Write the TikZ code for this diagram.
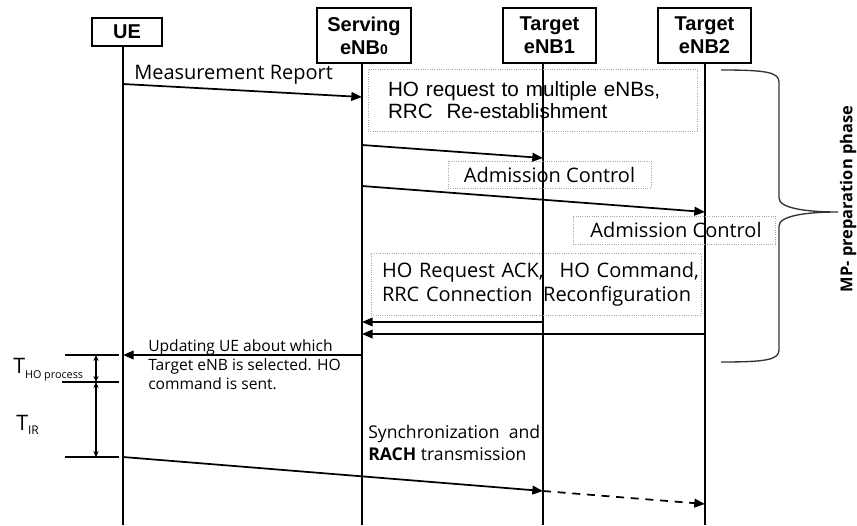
\documentclass[tikz,border=0pt]{standalone}
\usepackage{fontspec}
\setmainfont{Open Sans}
\newfontfamily\arialf{Liberation Sans}
\usetikzlibrary{arrows.meta}
\begin{document}
\begin{tikzpicture}[x=0.75pt,y=-0.75pt,
  hdr/.style={draw, line width=1.5pt, font=\arialf\bfseries\fontsize{15}{17.25}\selectfont, align=center, inner sep=0pt},
  life/.style={line width=1.4pt},
  msg/.style={line width=1.3pt, -{Triangle[length=8pt,width=6.5pt]}},
  dmsg/.style={msg, dash pattern=on 6pt off 5pt},
  dotbox/.style={draw=gray!70, densely dotted, line width=0.7pt},
  lbl/.style={font=\fontsize{15}{18}\selectfont, inner sep=0pt},
  tick/.style={line width=1.3pt},
  dim/.style={line width=1.2pt, {Stealth[length=4.5pt,width=4pt]}-{Stealth[length=4.5pt,width=4pt]}},
  brace/.style={line width=1pt, draw=black!80}]
\useasboundingbox (0,0) rectangle (857,525);

% header boxes
\node[hdr, minimum width=52.5pt, minimum height=21pt] (ue) at (127,32) {UE};
\node[hdr, minimum width=70.5pt, minimum height=41.25pt] (srv) at (364,35.5) {Serving\\eNB{\fontsize{10.5}{10}\selectfont 0}};
\node[hdr, minimum width=69.75pt, minimum height=41.25pt] (t1) at (549.5,35.5) {Target\\eNB1};
\node[hdr, minimum width=69.75pt, minimum height=41.25pt] (t2) at (704.5,35.5) {Target\\eNB2};

% lifelines
\coordinate (ueT) at (123,46);  \coordinate (ueB) at (123,525);
\coordinate (srvT) at (362,63); \coordinate (srvB) at (362,525);
\coordinate (t1T) at (543,63);  \coordinate (t1B) at (543,525);
\coordinate (t2T) at (705,63);  \coordinate (t2B) at (705,525);
\draw[life] (ueT) -- (ueB);
\draw[life] (srvT) -- (srvB);
\draw[life] (t1T) -- (t1B);
\draw[life] (t2T) -- (t2B);

% dotted boxes
\node[dotbox, lbl, font=\arialf\fontsize{15.5}{16}\selectfont, text width=216.75pt, align=left,
      inner xsep=15pt, minimum height=46.5pt] (horeq) at (532.5,100)
      {HO request to multiple eNBs,\\RRC\ \ Re-establishment};
\node[dotbox, lbl, minimum width=152.25pt, minimum height=20.25pt] (ac1) at (549.5,174.5) {Admission Control};
\node[dotbox, lbl, minimum width=151.5pt, minimum height=21pt] (ac2) at (674,230) {\hspace{3pt}Admission Control};
\node[dotbox, lbl, text width=231pt, align=left, inner xsep=8.25pt, minimum height=46.5pt] (ack) at (536,284)
      {\mbox{HO Request ACK,\hspace{12pt}HO Command,}\\\mbox{RRC Connection\hspace{8pt}Reconfiguration}};

% messages
\coordinate (m1s) at (123,84);  \coordinate (m1e) at (362,97);
\draw[msg] (m1s) -- (m1e);
\node[lbl, anchor=west] (m1l) at (134,75) {Measurement Report};

\coordinate (m2s) at (362,145); \coordinate (m2e) at (543,158);
\draw[msg] (m2s) -- (m2e);
\coordinate (m3s) at (362,186); \coordinate (m3e) at (705,212);
\draw[msg] (m3s) -- (m3e);

\coordinate (r1s) at (543,322); \coordinate (r1e) at (362,322);
\draw[msg] (r1s) -- (r1e);
\coordinate (r2s) at (705,334); \coordinate (r2e) at (362,334);
\draw[msg] (r2s) -- (r2e);

\coordinate (u1s) at (362,355); \coordinate (u1e) at (123,355);
\draw[msg] (u1s) -- (u1e);
\node[lbl, anchor=north west, font=\fontsize{11.7}{14.25}\selectfont, align=left] (updl) at (148,339)
  {Updating UE about which\\Target eNB is selected. HO\\command is sent.};

\coordinate (s1s) at (123,457); \coordinate (s1e) at (543,491);
\draw[msg] (s1s) -- (s1e);
\coordinate (s2e) at (705,504);
\draw[dmsg] (s1e) -- (s2e);
\node[lbl, anchor=west, font=\fontsize{13.2}{16}\selectfont, align=left] (syncl) at (368,443)
  {Synchronization\ \ and\\\textbf{RACH} transmission};

% timing annotations
\coordinate (k1a) at (65,355);  \coordinate (k1b) at (119,355);
\coordinate (k2a) at (62,382);  \coordinate (k2b) at (119,382);
\coordinate (k3a) at (65,457);  \coordinate (k3b) at (119,457);
\draw[tick] (k1a) -- (k1b);
\draw[tick] (k2a) -- (k2b);
\draw[tick] (k3a) -- (k3b);
\coordinate (d1) at (96,355); \coordinate (d2) at (96,382); \coordinate (d3) at (96,457);
\draw[dim] (d1) -- (d2);
\draw[dim] (d2) -- (d3);
\node[inner sep=0pt, anchor=base west] (tho) at (13,373)
  {\fontsize{16}{16}\selectfont T\raisebox{-4pt}{\fontsize{8.1}{8}\selectfont HO process}};
\node[inner sep=0pt, anchor=base west] (tir) at (16,430)
  {\fontsize{16}{16}\selectfont T\raisebox{-3pt}{\fontsize{9}{9}\selectfont IR}};

% brace
\coordinate (bt) at (721,70); \coordinate (bb) at (721,362); \coordinate (btip) at (838,212);
\draw[brace] (bt) .. controls (765,70) and (779,72) .. (779,82) -- (779,198)
  .. controls (779,208) and (805,212) .. (btip)
  .. controls (805,212) and (779,216) .. (779,226) -- (779,350)
  .. controls (779,360) and (765,362) .. (bb);
\node[rotate=90, inner sep=0pt, font=\bfseries\fontsize{12.3}{14}\selectfont] (mp) at (848,199) {MP- preparation phase};
\end{tikzpicture}
\end{document}
